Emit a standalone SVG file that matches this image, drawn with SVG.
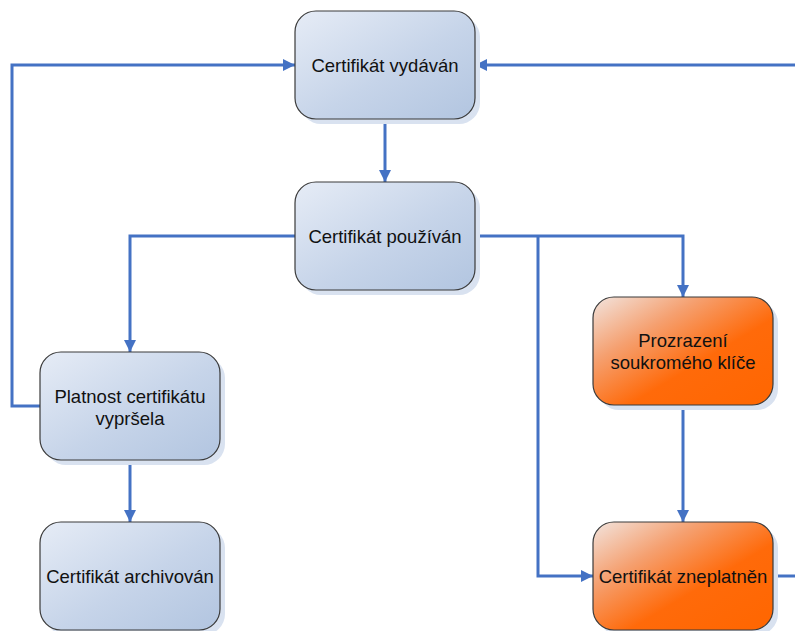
<svg xmlns="http://www.w3.org/2000/svg" width="795" height="631" viewBox="0 0 795 631">
<defs>
<linearGradient id="gBlue" x1="0" y1="0" x2="1" y2="1">
<stop offset="0" stop-color="#e6ecf6"/>
<stop offset="0.55" stop-color="#c6d4e9"/>
<stop offset="1" stop-color="#b2c5e0"/>
</linearGradient>
<linearGradient id="gOrange" x1="0" y1="0" x2="1" y2="1">
<stop offset="0" stop-color="#f2e4de"/>
<stop offset="0.3" stop-color="#f5a070"/>
<stop offset="0.6" stop-color="#ff6a0a"/>
<stop offset="1" stop-color="#ff6600"/>
</linearGradient>
<marker id="arr" viewBox="0 0 12 12" refX="12" refY="6" markerWidth="12" markerHeight="12" markerUnits="userSpaceOnUse" orient="auto">
<path d="M0,0 L12,6 L0,12 Z" fill="#4472c4"/>
</marker>
</defs>
<style>
.sh{fill:#d9e2f0}
.blue{fill:url(#gBlue);stroke:#3a3a3a;stroke-width:1.2}
.orange{fill:url(#gOrange);stroke:#3a3a3a;stroke-width:1.2}
.t{font-family:"Liberation Sans",Arial,sans-serif;font-size:18.5px;fill:#111;text-anchor:middle}
.c{fill:none;stroke:#4472c4;stroke-width:3}
.ca{fill:none;stroke:#4472c4;stroke-width:3;marker-end:url(#arr)}
</style>
<g id="connectors">
<path class="ca" d="M385,119 V182"/>
<path class="ca" d="M295,236 H130 V352"/>
<path class="ca" d="M40,406 H12 V65 H295"/>
<path class="ca" d="M475,236 H683 V297"/>
<path class="ca" d="M538,236 V576 H593"/>
<path class="ca" d="M683,405 V522"/>
<path class="c" d="M773,576 H795"/>
<path class="ca" d="M795,65 H475"/>
<path class="ca" d="M130,460 V522"/>
</g>
<g id="n1">
<rect class="sh" x="300" y="16" width="180" height="108" rx="21"/>
<rect class="blue" x="295" y="11" width="180" height="108" rx="21"/>
<text class="t" x="385" y="71.5">Certifikát vydáván</text>
</g>
<g id="n2">
<rect class="sh" x="300" y="187" width="180" height="108" rx="21"/>
<rect class="blue" x="295" y="182" width="180" height="108" rx="21"/>
<text class="t" x="385" y="242.5">Certifikát používán</text>
</g>
<g id="n3">
<rect class="sh" x="45" y="357" width="180" height="108" rx="21"/>
<rect class="blue" x="40" y="352" width="180" height="108" rx="21"/>
<text class="t" x="130" y="403">Platnost certifikátu</text>
<text class="t" x="130" y="424.5">vypršela</text>
</g>
<g id="n4">
<rect class="sh" x="45" y="527" width="180" height="108" rx="21"/>
<rect class="blue" x="40" y="522" width="180" height="108" rx="21"/>
<text class="t" x="130" y="582.5">Certifikát archivován</text>
</g>
<g id="n5">
<rect class="sh" x="598" y="302" width="180" height="108" rx="21"/>
<rect class="orange" x="593" y="297" width="180" height="108" rx="21"/>
<text class="t" x="683" y="347">Prozrazení</text>
<text class="t" x="683" y="368.5">soukromého klíče</text>
</g>
<g id="n6">
<rect class="sh" x="598" y="527" width="180" height="108" rx="21"/>
<rect class="orange" x="593" y="522" width="180" height="108" rx="21"/>
<text class="t" x="683" y="582.5">Certifikát zneplatněn</text>
</g>
</svg>
